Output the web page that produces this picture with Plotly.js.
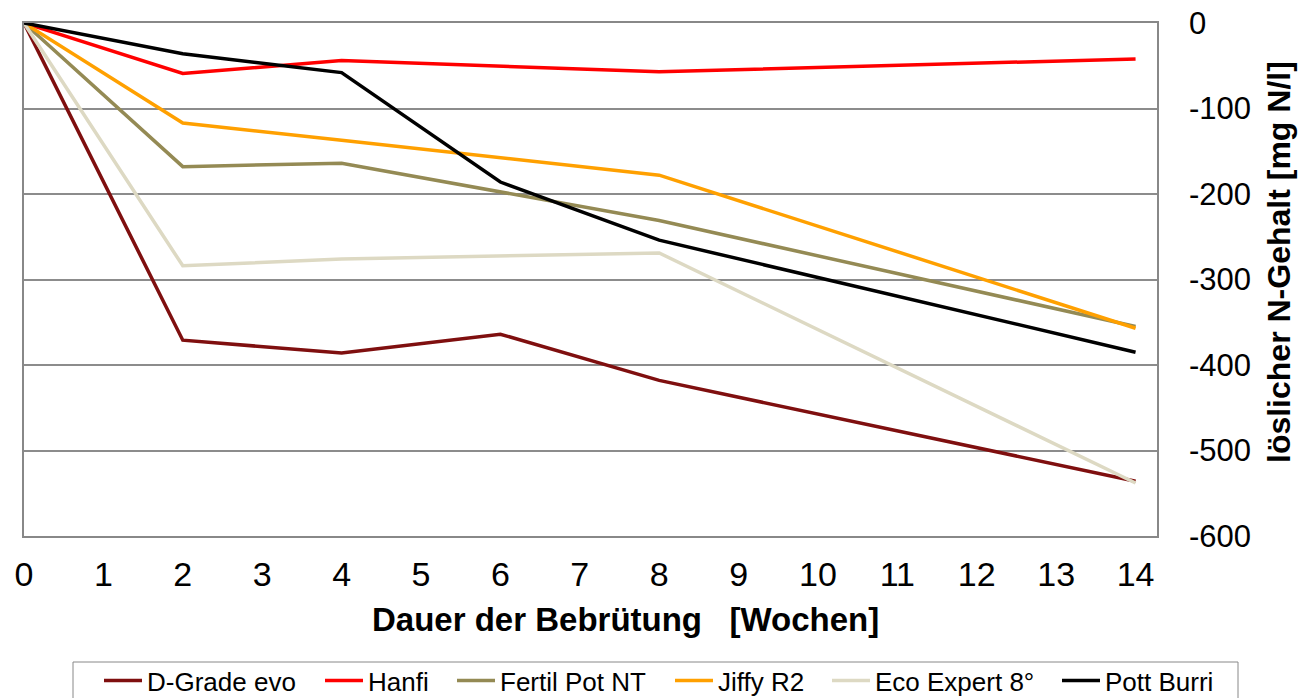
<!DOCTYPE html>
<html>
<head>
<meta charset="utf-8">
<script src="https://cdn.plot.ly/plotly-3.0.1.min.js"></script>
<style>
  html, body { margin: 0; padding: 0; background: #ffffff; }
  #chart { width: 1299px; height: 698px; }
</style>
</head>
<body>
<div id="chart"></div>
<script>
// Weeks of incubation
const weeks = [0, 2, 4, 6, 8, 14];

// Soluble N content [mg N/l] per substrate
const dGradeEvo   = [0, -371, -386, -364, -418, -536];
const hanfi       = [0, -59, -44, -50, -57, -42];
const fertilPotNT = [0, -168, -164, -197, -231, -355];
const jiffyR2     = [0, -117, -137, -157, -178, -357];
const ecoExpert8  = [0, -284, -276, -273, -269, -538];
const pottBurri   = [0, -36, -58, -186, -254, -385];

const seriesNames = ["D-Grade evo", "Hanfi", "Fertil Pot NT", "Jiffy R2", "Eco Expert 8°", "Pott Burri"];
const seriesValues = [dGradeEvo, hanfi, fertilPotNT, jiffyR2, ecoExpert8, pottBurri];
const seriesColors = ["#7f0f0f", "#ff0000", "#948a54", "#ffa000", "#ddd9c3", "#000000"];

const xTickVals = [0,1,2,3,4,5,6,7,8,9,10,11,12,13,14];
const yTickVals = [0, -100, -200, -300, -400, -500, -600];
const yTickText = ["0", "-100", "-200", "-300", "-400", "-500", "-600"];

const xTitle = "Dauer der Bebrütung\u00a0\u00a0\u00a0[Wochen]";
const yTitle = "löslicher N-Gehalt [mg N/l]";

const FONT = "Liberation Sans, Arial, Helvetica, sans-serif";

// layout helpers (pixel -> paper coordinates of the plot area)
const M = { l: 24, r: 142, t: 23, b: 162 };
const W = 1299, H = 698;
const PW = W - M.l - M.r, PH = H - M.t - M.b;
const px = v => (v - M.l) / PW;
const py = v => (H - M.b - v) / PH;

// left edges of the legend entries (pixels)
const legendLeft = [99, 320, 452, 670, 827, 1057];
const legendTop = 657;

const legendKeys = ["legend", "legend2", "legend3", "legend4", "legend5", "legend6"];

const traces = seriesNames.map((name, i) => ({
  type: "scatter",
  mode: "lines",
  name: name,
  x: weeks,
  y: seriesValues[i],
  line: { color: seriesColors[i], width: 3.5 },
  legend: legendKeys[i],
  hoverinfo: "x+y+name"
}));

const layout = {
  width: W,
  height: H,
  margin: { l: M.l, r: M.r, t: M.t, b: M.b, autoexpand: false },
  paper_bgcolor: "#ffffff",
  plot_bgcolor: "#ffffff",
  font: { family: FONT, color: "#000000" },
  showlegend: true,
  xaxis: {
    range: [0, 14.27],
    tickvals: xTickVals,
    ticks: "",
    showgrid: false,
    zeroline: false,
    showline: true,
    linecolor: "#888888",
    linewidth: 1.5,
    mirror: true,
    tickfont: { family: FONT, size: 34, color: "#000000" },
    ticklabelstandoff: 7,
    automargin: false
  },
  yaxis: {
    side: "right",
    range: [-600, 0],
    tickvals: yTickVals,
    ticktext: yTickText,
    ticks: "",
    showgrid: true,
    gridcolor: "#8c8c8c",
    gridwidth: 1.5,
    zeroline: false,
    showline: true,
    linecolor: "#888888",
    linewidth: 1.5,
    mirror: true,
    tickfont: { family: FONT, size: 31, color: "#000000" },
    ticklabelstandoff: 24,
    automargin: false
  },
  annotations: [
    {
      text: xTitle,
      xref: "paper", yref: "paper",
      x: px(625), y: py(619),
      xanchor: "center", yanchor: "middle",
      showarrow: false,
      font: { family: FONT, size: 33, color: "#000000", weight: "bold" }
    },
    {
      text: yTitle,
      xref: "paper", yref: "paper",
      x: px(1279), y: py(262),
      xanchor: "center", yanchor: "middle",
      textangle: -90,
      showarrow: false,
      font: { family: FONT, size: 32, color: "#000000", weight: "bold" }
    }
  ],
  shapes: [
    {
      type: "rect",
      xref: "paper", yref: "paper",
      x0: px(73), x1: px(1238),
      y0: py(662), y1: py(720),
      line: { color: "#888888", width: 1 },
      fillcolor: "rgba(0,0,0,0)",
      layer: "above"
    }
  ]
};

legendKeys.forEach((k, i) => {
  layout[k] = {
    orientation: "h",
    x: px(legendLeft[i]), xanchor: "left",
    y: py(legendTop), yanchor: "top",
    borderwidth: 0,
    bgcolor: "rgba(0,0,0,0)",
    font: { family: FONT, size: 26, color: "#000000" },
    itemwidth: 38
  };
});

Plotly.newPlot("chart", traces, layout, { displayModeBar: false, responsive: false });
</script>
</body>
</html>
